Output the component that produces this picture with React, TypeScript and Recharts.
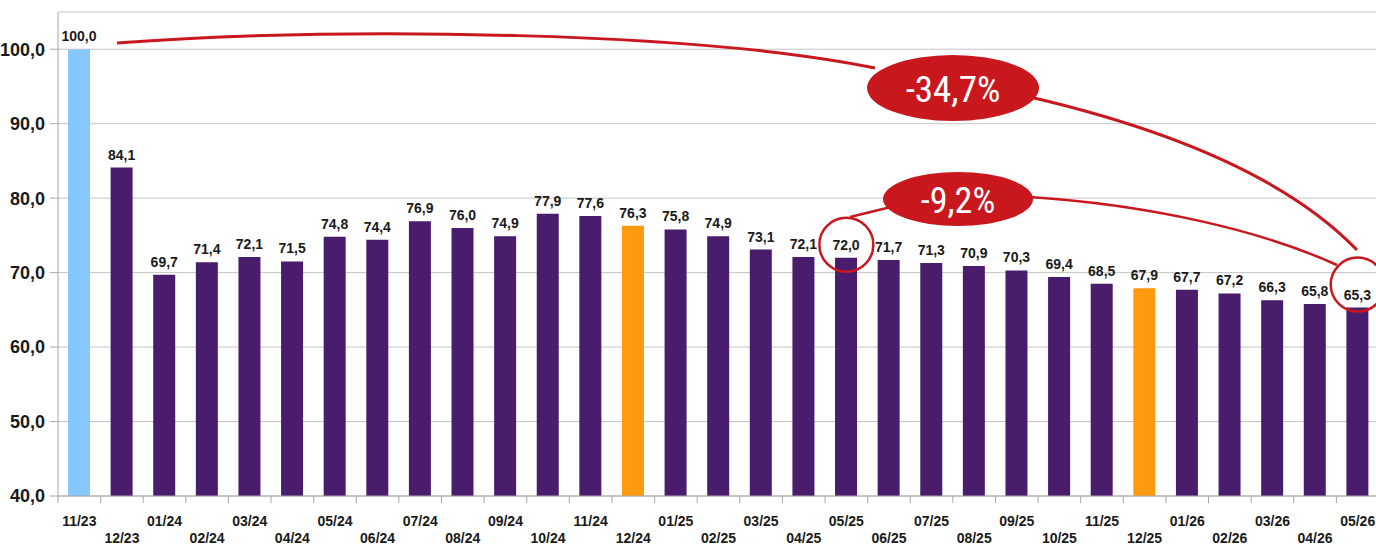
import {
  Bar,
  BarChart,
  CartesianGrid,
  Cell,
  LabelList,
  ReferenceDot,
  XAxis,
  YAxis,
} from "recharts";

const months = [
  "11/23", "12/23",
  "01/24", "02/24", "03/24", "04/24", "05/24", "06/24",
  "07/24", "08/24", "09/24", "10/24", "11/24", "12/24",
  "01/25", "02/25", "03/25", "04/25", "05/25", "06/25",
  "07/25", "08/25", "09/25", "10/25", "11/25", "12/25",
  "01/26", "02/26", "03/26", "04/26", "05/26",
];

const values = [
  100.0, 84.1,
  69.7, 71.4, 72.1, 71.5, 74.8, 74.4,
  76.9, 76.0, 74.9, 77.9, 77.6, 76.3,
  75.8, 74.9, 73.1, 72.1, 72.0, 71.7,
  71.3, 70.9, 70.3, 69.4, 68.5, 67.9,
  67.7, 67.2, 66.3, 65.8, 65.3,
];

const yTicks = [40, 50, 60, 70, 80, 90, 100];

// base month in light blue, decembers in orange
const specialColors: Record<string, string> = {
  "11/23": "#86c8fc",
  "12/24": "#fe9a0e",
  "12/25": "#fe9a0e",
};

// circled values
const circledMonths = ["05/25", "05/26"];
const circleShift = [-13, -23];

const changeLabels = ["-34,7%", "-9,2%"];

const PURPLE = "#4a1d6c";
const RED = "#c9171e";
const FONT = "'Liberation Sans', Arial, sans-serif";
const NARROW = "'Liberation Sans Narrow', 'Arial Narrow', 'Roboto Condensed', sans-serif";

const data = months.map((month, i) => ({ month, value: values[i] }));

const fmt = (v: any) => Number(v).toFixed(1).replace(".", ",");

const MonthTick = (props: any) => {
  const { x, y, payload } = props;
  const index = props.index ?? payload?.index ?? 0;
  const half = payload?.offset || 21.3;
  return (
    <g>
      <line x1={x - half} x2={x - half} y1={y} y2={y + 7} stroke="#a8a8a8" />
      <text
        x={x}
        y={y + (index % 2 === 0 ? 30 : 47)}
        textAnchor="middle"
        fontFamily={FONT}
        fontWeight="bold"
        fontSize={14}
        fill="#1a1a1a"
      >
        {payload.value}
      </text>
    </g>
  );
};

const App = () => {
  return (
    <div
      style={{
        position: "absolute",
        left: 0,
        top: 0,
        width: 1376,
        height: 545,
        overflow: "hidden",
        background: "#fff",
      }}
    >
      <BarChart
        width={1380}
        height={545}
        data={data}
        margin={{ top: 12, right: 1, left: 0, bottom: 0 }}
        barSize={22}
      >
        <CartesianGrid vertical={false} stroke="#c4c4c4" />
        <XAxis
          dataKey="month"
          interval={0}
          height={49}
          tickSize={0}
          tickMargin={0}
          tickLine={false}
          axisLine={{ stroke: "#a8a8a8" }}
          tick={<MonthTick />}
        />
        <YAxis
          type="number"
          domain={[40, 105]}
          ticks={yTicks}
          width={58}
          tickFormatter={fmt}
          tickSize={8}
          tickMargin={5}
          axisLine={{ stroke: "#a8a8a8" }}
          tickLine={{ stroke: "#a8a8a8" }}
          tick={{ fontSize: 18, fontWeight: "bold", fill: "#1a1a1a", fontFamily: FONT }}
        />
        <Bar dataKey="value" isAnimationActive={false}>
          {data.map((d) => (
            <Cell key={d.month} fill={specialColors[d.month] ?? PURPLE} />
          ))}
          <LabelList
            dataKey="value"
            position="top"
            offset={8}
            formatter={fmt}
            style={{ fontSize: 14, fontWeight: "bold", fill: "#1a1a1a", fontFamily: FONT }}
          />
        </Bar>
        {circledMonths.map((m, i) => (
          <ReferenceDot
            key={m}
            x={m}
            y={values[months.indexOf(m)]}
            shape={(p: any) => (
              <circle
                cx={p.cx}
                cy={p.cy + circleShift[i]}
                r={27}
                fill="none"
                stroke={RED}
                strokeWidth={2.5}
              />
            )}
          />
        ))}
      </BarChart>

      {/* change annotations */}
      <svg
        width={1376}
        height={545}
        style={{ position: "absolute", left: 0, top: 0, pointerEvents: "none" }}
      >
        <path d="M117,43 C350,26 700,32 875,68" fill="none" stroke={RED} strokeWidth={3} />
        <path d="M1030,97 C1150,125 1280,170 1357,250" fill="none" stroke={RED} strokeWidth={3} />
        <path d="M850,217 L895,206" fill="none" stroke={RED} strokeWidth={2.5} />
        <path d="M1030,197 C1150,205 1260,230 1337,265" fill="none" stroke={RED} strokeWidth={2.5} />
        <ellipse cx={953} cy={88} rx={86} ry={33} fill={RED} />
        <ellipse cx={958} cy={199} rx={75} ry={27} fill={RED} />
        <text
          x={953}
          y={102}
          textAnchor="middle"
          fill="#fff"
          fontSize={37}
          fontFamily={NARROW}
          style={{ fontStretch: "condensed" }}
        >
          {changeLabels[0]}
        </text>
        <text
          x={958}
          y={213}
          textAnchor="middle"
          fill="#fff"
          fontSize={36}
          fontFamily={NARROW}
          style={{ fontStretch: "condensed" }}
        >
          {changeLabels[1]}
        </text>
      </svg>
    </div>
  );
};

export default App;
